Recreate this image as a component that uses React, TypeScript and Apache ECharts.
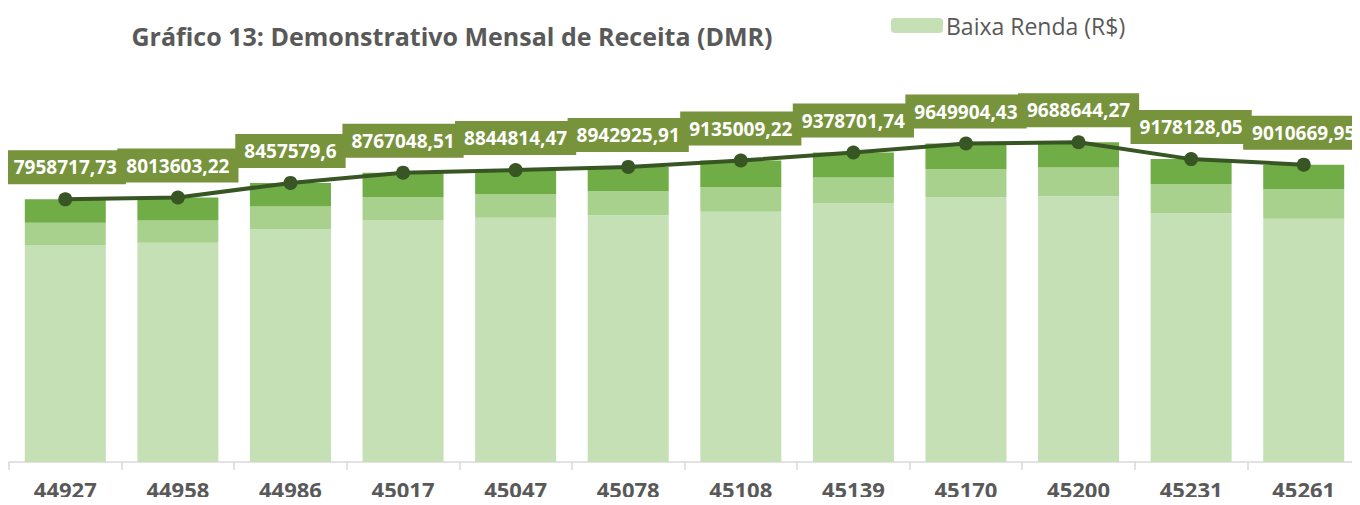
import React, { useEffect, useRef } from "react";
import * as echarts from "echarts";

const categories = ["44927", "44958", "44986", "45017", "45047", "45078", "45108", "45139", "45170", "45200", "45231", "45261"];
const baixaRenda = [6572000, 6641000, 7056000, 7320000, 7399000, 7480000, 7580000, 7835000, 8025000, 8056000, 7541000, 7368000];
const parcela2 = [675000, 678000, 687000, 706000, 718000, 727000, 748000, 787000, 848000, 869000, 878000, 899000];
const parcela3 = [711718, 694603, 714580, 741049, 727814, 735926, 807009, 756702, 776904, 763644, 759128, 743670];
const totals = [7958717.73, 8013603.22, 8457579.6, 8767048.51, 8844814.47, 8942925.91, 9135009.22, 9378701.74, 9649904.43, 9688644.27, 9178128.05, 9010669.95];

const FONT = "'Open Sans', sans-serif";

export default function App() {
  const ref = useRef<HTMLDivElement>(null);
  useEffect(() => {
    if (!ref.current) return;
    const chart = echarts.init(ref.current, undefined, { renderer: "svg" });
    chart.setOption({
      animation: false,
      textStyle: { fontFamily: FONT },
      title: {
        text: "Gráfico 13: Demonstrativo Mensal de Receita (DMR)",
        left: 447,
        textAlign: "center",
        top: 18,
        textStyle: { fontFamily: FONT, fontSize: 25, fontWeight: "bold", color: "#595959" },
      },
      legend: {
        data: ["Baixa Renda (R$)"],
        left: 891,
        top: 14,
        padding: 0,
        itemWidth: 52,
        itemHeight: 15,
        itemGap: 5,
        textStyle: { fontFamily: FONT, fontSize: 23, color: "#595959", padding: [0, 0, 0, -2] },
      },
      grid: { left: 9, width: 1358, top: 66, bottom: 43, containLabel: false },
      xAxis: {
        type: "category",
        data: categories,
        boundaryGap: true,
        axisLine: { lineStyle: { color: "#D9D9D9", width: 1.5 } },
        axisTick: { show: true, length: 8, lineStyle: { color: "#D9D9D9", width: 1.5 } },
        axisLabel: { fontFamily: FONT, fontSize: 22, lineHeight: 22, fontWeight: "bold", color: "#595959", margin: 16 },
      },
      yAxis: {
        type: "value",
        min: 0,
        max: 12000000,
        show: false,
        splitLine: { show: false },
      },
      series: [
        {
          name: "Baixa Renda (R$)",
          type: "bar",
          stack: "total",
          barWidth: 81,
          data: baixaRenda,
          itemStyle: { color: "#C5E0B4" },
        },
        {
          name: "Parcela 2",
          type: "bar",
          stack: "total",
          barWidth: 81,
          data: parcela2,
          itemStyle: { color: "#A9D18E" },
        },
        {
          name: "Parcela 3",
          type: "bar",
          stack: "total",
          barWidth: 81,
          data: parcela3,
          itemStyle: { color: "#70AD47" },
        },
        {
          name: "Total",
          type: "line",
          data: totals,
          symbol: "circle",
          symbolSize: 14,
          lineStyle: { color: "#375623", width: 4 },
          itemStyle: { color: "#375623" },
          z: 5,
          label: {
            show: true,
            position: "top",
            distance: 8,
            formatter: (p: any) => String(p.value).replace(".", ","),
            backgroundColor: "#77933C",
            color: "#FFFFFF",
            fontFamily: FONT,
            fontWeight: "bold",
            fontSize: 19,
            lineHeight: 22,
            padding: [6, 9],
          },
        },
      ],
    });
    return () => chart.dispose();
  }, []);
  return <div ref={ref} style={{ width: 1360, height: 505, margin: -8 }} />;
}
